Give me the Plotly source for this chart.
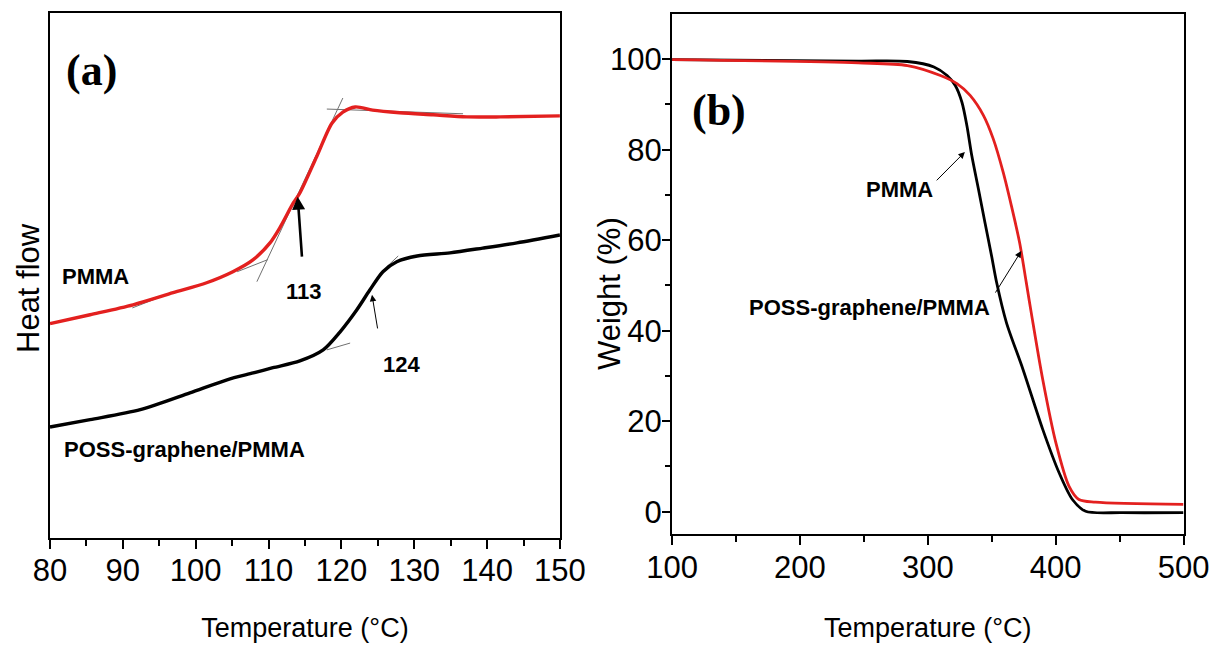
import plotly.graph_objects as go

# ---------------- Panel (a): DSC ----------------
dsc_pmma_T = [80.0, 85.5, 91.4, 96.9, 101.5, 105.1, 107.9, 110.2, 111.6, 113.4, 114.3,
              116.6, 118.7, 120.2, 121.9, 124.3, 128.0, 132.6, 137.2, 141.8, 150.0]
dsc_pmma_hf = [40.8, 42.5, 44.4, 46.7, 48.6, 50.7, 53.0, 56.2, 59.2, 63.8, 65.7,
               72.6, 79.0, 81.1, 82.1, 81.5, 81.0, 80.6, 80.2, 80.2, 80.4]

dsc_poss_T = [80.0, 85.5, 92.4, 99.2, 104.3, 107.9, 110.6, 114.3, 117.5, 119.8, 122.1,
              123.9, 125.7, 127.6, 130.4, 134.9, 139.4, 144.1, 150.0]
dsc_poss_hf = [21.1, 22.5, 24.4, 27.6, 30.1, 31.4, 32.4, 33.7, 35.8, 39.2, 43.4,
               47.2, 50.7, 52.6, 53.7, 54.3, 55.2, 56.2, 57.7]

# tangent construction lines (start T, end T, start hf, end hf)
tan_T0 = [91.3, 105.7, 108.4, 118.0, 118.0, 126.2]
tan_T1 = [95.2, 109.9, 120.2, 136.7, 121.2, 127.8]
tan_h0 = [43.8, 50.7, 48.8, 81.7, 35.8, 51.6]
tan_h1 = [45.9, 53.0, 83.8, 80.8, 37.1, 53.7]

# ---------------- Panel (b): TGA ----------------
tga_pmma_T = [100, 245.5, 284.1, 304.8, 315.1, 321.5, 326.7, 330.6, 334.4, 339.6, 344.7,
              349.9, 353.8, 361.5, 374.4, 389.9, 402.7, 413.1, 423.4, 451.8, 500]
tga_pmma_w = [99.9, 99.6, 99.5, 98.3, 96.4, 94.2, 90.5, 85.3, 78.7, 71.3, 63.9,
              56.5, 50.7, 41.8, 31.5, 18.2, 8.6, 2.7, 0.1, -0.2, -0.2]

tga_poss_T = [100, 245.5, 284.1, 309.9, 322.8, 333.1, 343.5, 351.2, 359.0, 365.4, 371.8,
              377.0, 380.9, 389.9, 400.2, 410.5, 418.2, 431.1, 500]
tga_poss_w = [99.9, 99.2, 98.6, 96.4, 94.6, 92.0, 87.6, 82.4, 75.0, 67.6, 59.5,
              50.7, 44.0, 29.2, 15.2, 5.6, 2.7, 2.1, 1.6]

RED = "#e3201f"
REG = "Liberation Sans, Arial, sans-serif"
SERIF = "Liberation Serif, Times New Roman, serif"

fig = go.Figure()

# tangents (thin gray)
for a, b, c, d in zip(tan_T0, tan_T1, tan_h0, tan_h1):
    fig.add_trace(go.Scatter(x=[a, b], y=[c, d], mode="lines",
                             line=dict(color="#707070", width=1),
                             showlegend=False, hoverinfo="skip",
                             xaxis="x", yaxis="y"))

fig.add_trace(go.Scatter(x=dsc_pmma_T, y=dsc_pmma_hf, mode="lines", name="PMMA",
                         line=dict(color=RED, width=3.4, shape="spline", smoothing=0.8),
                         showlegend=False, xaxis="x", yaxis="y"))
fig.add_trace(go.Scatter(x=dsc_poss_T, y=dsc_poss_hf, mode="lines", name="POSS-graphene/PMMA",
                         line=dict(color="black", width=3.4, shape="spline", smoothing=0.8),
                         showlegend=False, xaxis="x", yaxis="y"))

fig.add_trace(go.Scatter(x=tga_pmma_T, y=tga_pmma_w, mode="lines", name="PMMA",
                         line=dict(color="black", width=2.8, shape="spline", smoothing=0.8),
                         showlegend=False, xaxis="x2", yaxis="y2"))
fig.add_trace(go.Scatter(x=tga_poss_T, y=tga_poss_w, mode="lines", name="POSS-graphene/PMMA",
                         line=dict(color=RED, width=2.8, shape="spline", smoothing=0.8),
                         showlegend=False, xaxis="x2", yaxis="y2"))

tickfont = dict(family=REG, size=31, color="black")
axis_common = dict(showline=True, linecolor="black", linewidth=2, mirror=True,
                   showgrid=False, zeroline=False, ticks="outside",
                   tickcolor="black", tickwidth=1.5, automargin=False,
                   ticklabeloverflow="allow")
xtitle_font = dict(family=REG, size=27, color="black")

fig.update_layout(
    width=1212, height=645,
    margin=dict(l=0, r=0, t=0, b=0),
    paper_bgcolor="white", plot_bgcolor="white",
    xaxis=dict(domain=[0.04125, 0.4620], range=[80, 150], dtick=10, ticklen=9,
               tickfont=tickfont, ticklabelstandoff=-5,
               minor=dict(dtick=5, ticks="outside", ticklen=6, tickcolor="black", tickwidth=1.5),
               title=dict(text="Temperature (°C)", font=xtitle_font, standoff=31),
               anchor="y", **axis_common),
    yaxis=dict(domain=[0.1663, 0.9798], range=[0, 100], showticklabels=False, ticks="",
               anchor="x", showline=True, linecolor="black", linewidth=2, mirror=True,
               showgrid=False, zeroline=False, automargin=False),
    xaxis2=dict(domain=[0.5545, 0.9765], range=[100, 500], dtick=100, ticklen=9,
                tickfont=tickfont, ticklabelstandoff=-5,
                minor=dict(dtick=50, ticks="outside", ticklen=6, tickcolor="black", tickwidth=1.5),
                title=dict(text="Temperature (°C)", font=xtitle_font, standoff=35),
                anchor="y2", **axis_common),
    yaxis2=dict(domain=[0.1716, 0.9783], range=[-5, 110], ticklen=8,
                tickvals=[0, 20, 40, 60, 80, 100],
                tickfont=tickfont, ticklabelstandoff=-6,
                minor=dict(tickvals=[10, 30, 50, 70, 90], ticks="outside", ticklen=5,
                           tickcolor="black", tickwidth=1.5),
                anchor="x2", **axis_common),
)

bold = dict(family=REG, size=22, color="black")
ytitle_font = dict(family=REG, size=31, color="black")
ann = []
# y-axis titles
ann.append(dict(text="Heat flow", x=28 / 1212, y=1 - 288 / 645, xref="paper", yref="paper",
                textangle=-90, showarrow=False, xanchor="center", yanchor="middle",
                font=ytitle_font))
ann.append(dict(text="Weight (%)", x=609 / 1212, y=1 - 294 / 645, xref="paper", yref="paper",
                textangle=-90, showarrow=False, xanchor="center", yanchor="middle",
                font=ytitle_font))
# panel labels
ann.append(dict(text="<b>(a)</b>", x=0.082, y=0.891, xref="x domain", yref="y domain",
                xanchor="center", yanchor="middle",
                showarrow=False, font=dict(family=SERIF, size=44, color="black")))
ann.append(dict(text="<b>(b)</b>", x=0.091, y=0.814, xref="x2 domain", yref="y2 domain",
                xanchor="center", yanchor="middle",
                showarrow=False, font=dict(family=SERIF, size=44, color="black")))
ann.append(dict(text="<b>PMMA</b>", x=86.2, y=49.7, xref="x", yref="y", showarrow=False, font=bold))
ann.append(dict(text="<b>113</b>", x=114.8, y=46.9, xref="x", yref="y", showarrow=False, font=bold))
ann.append(dict(text="<b>124</b>", x=128.3, y=33.1, xref="x", yref="y", showarrow=False, font=bold))
ann.append(dict(text="<b>POSS-graphene/PMMA</b>", x=98.4, y=16.9, xref="x", yref="y",
                showarrow=False, font=bold))
# arrows panel (a)
ann.append(dict(x=114.0, y=65.0, ax=114.6, ay=53.3, xref="x", yref="y", axref="x", ayref="y",
                text="", showarrow=True, arrowhead=2, arrowsize=1, arrowwidth=2.6, arrowcolor="black"))
ann.append(dict(x=124.2, y=46.3, ax=125.0, ay=39.6, xref="x", yref="y", axref="x", ayref="y",
                text="", showarrow=True, arrowhead=2, arrowsize=1.3, arrowwidth=1, arrowcolor="black"))
# panel (b) labels and arrows
ann.append(dict(text="<b>PMMA</b>", x=278.0, y=71.3, xref="x2", yref="y2", showarrow=False, font=bold))
ann.append(dict(text="<b>POSS-graphene/PMMA</b>", x=254.4, y=45.2, xref="x2", yref="y2",
                showarrow=False, font=bold))
ann.append(dict(x=329.0, y=79.5, ax=305.8, ay=72.9, xref="x2", yref="y2", axref="x2", ayref="y2",
                text="", showarrow=True, arrowhead=2, arrowsize=1.3, arrowwidth=1, arrowcolor="black"))
ann.append(dict(x=373.1, y=57.6, ax=352.2, ay=48.1, xref="x2", yref="y2", axref="x2", ayref="y2",
                text="", showarrow=True, arrowhead=2, arrowsize=1.3, arrowwidth=1, arrowcolor="black"))
fig.update_layout(annotations=ann)

fig.write_html("out.html")
